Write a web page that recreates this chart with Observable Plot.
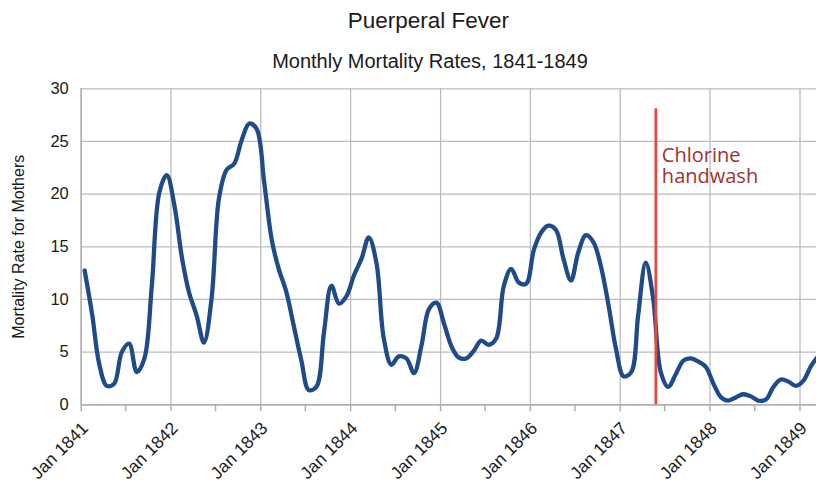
<!DOCTYPE html>
<html>
<head>
<meta charset="utf-8">
<script src="https://cdn.jsdelivr.net/npm/d3@7"></script>
<script src="https://cdn.jsdelivr.net/npm/@observablehq/plot@0.6"></script>
<style>
  body { margin: 0; background: #fff; }
  #wrap { position: relative; width: 816px; height: 480px; overflow: hidden; font-family: "Liberation Sans", Arial, sans-serif; color: #1a1a1a; }
  .ttl { position: absolute; white-space: nowrap; transform: translateX(-50%); line-height: 1; }
  #title { left: 428.3px; top: 10.3px; font-size: 22.5px; }
  #subtitle { left: 430px; top: 51.4px; font-size: 20px; }
  #chart { position: absolute; left: 0; top: 0; }
</style>
</head>
<body>
<div id="wrap">
  <div id="chart"></div>
  <div id="title" class="ttl">Puerperal Fever</div>
  <div id="subtitle" class="ttl">Monthly Mortality Rates, 1841-1849</div>
</div>
<script>
// ---- data ----
const firstMonth = [1841, 0];          // Jan 1841, one value per month
const mortalityRates = [
  12.75, 8.5, 3.9, 1.8, 2.0, 5.0, 5.8, 3.1, 4.4, 11.3, 20.2, 21.8,      // 1841
  18.9, 13.9, 10.7, 8.5, 5.9, 10.1, 19.6, 22.3, 22.9, 25.1, 26.7, 26.2, // 1842
  21.1, 15.6, 12.9, 10.7, 7.5, 4.2, 1.4, 1.7, 6.9, 11.3, 9.6, 10.3,     // 1843
  12.3, 13.9, 15.9, 13.5, 6.3, 3.8, 4.6, 4.4, 3.0, 5.6, 9.1, 9.7,       // 1844
  7.7, 5.5, 4.5, 4.4, 5.1, 6.1, 5.7, 6.3, 11.3, 12.9, 11.6, 11.5,       // 1845
  14.7, 16.4, 17.0, 16.6, 13.9, 11.8, 14.5, 16.1, 15.4, 13.1, 9.4, 5.3, // 1846
  2.7, 3.1, 8.5, 13.5, 10.1, 3.1, 1.7, 2.9, 4.2, 4.4, 4.1, 3.6,         // 1847
  2.0, 0.7, 0.4, 0.7, 1.0, 0.8, 0.4, 0.5, 1.7, 2.4, 2.2, 1.8,           // 1848
  2.3, 3.7, 4.6                                                         // 1849
];
const yearTickYears = [1841, 1842, 1843, 1844, 1845, 1846, 1847, 1848, 1849];
const yTickValues = [0, 5, 10, 15, 20, 25, 30];
const yLabel = "Mortality Rate for Mothers";
const annotationDate = [1847, 4, 26];  // chlorine handwashing introduced
const annotationTop = 28.1;
const annotationText = "Chlorine\nhandwash";

// ---- build tables ----
const data = mortalityRates.map((v, i) => ({
  date: new Date(Date.UTC(firstMonth[0], firstMonth[1] + i, 15)),
  rate: v
}));
const yearTicks = yearTickYears.map(y => new Date(Date.UTC(y, 0, 1)));
const halfYearTicks = yearTickYears.flatMap(y => [new Date(Date.UTC(y, 0, 1)), new Date(Date.UTC(y, 6, 1))])
  .filter(d => d <= new Date(Date.UTC(1849, 2, 9)));
const handwash = new Date(Date.UTC(...annotationDate));

const gray = "#bcbcbc";
const chart = Plot.plot({
  width: 816,
  height: 480,
  marginTop: 88.3,
  marginBottom: 75.7,
  marginLeft: 80.7,
  marginRight: 0,
  style: { fontFamily: "'Liberation Sans', Arial, sans-serif", background: "transparent", overflow: "visible" },
  x: { type: "utc", domain: [new Date(Date.UTC(1841, 0, 1)), new Date(Date.UTC(1849, 2, 9))] },
  y: { domain: [0, 30] },
  marks: [
    Plot.gridY(yTickValues, { stroke: gray, strokeOpacity: 1, strokeWidth: 1.3 }),
    Plot.gridX(yearTicks, { stroke: gray, strokeOpacity: 1, strokeWidth: 1.3 }),
    Plot.ruleX([yearTicks[0]], { stroke: "#b0b0b0", strokeWidth: 1.5 }),
    Plot.ruleY([0], { stroke: "#b0b0b0", strokeWidth: 1.5 }),
    Plot.axisX({ ticks: halfYearTicks, tickSize: 7, tickFormat: () => "", stroke: "#b0b0b0", strokeWidth: 1.5, label: null }),
    Plot.axisX({
      ticks: yearTicks, tickSize: 0, tickPadding: 20.5, tickRotate: -45, dx: 4,
      tickFormat: d3.utcFormat("Jan %Y"), fontSize: 17.5, fill: "#1a1a1a", label: null
    }),
    Plot.axisY({ ticks: yTickValues, tickSize: 0, tickPadding: 12.4, fontSize: 16.5, fill: "#1a1a1a", label: null }),
    Plot.text([yLabel], { frameAnchor: "left", rotate: -90, dx: -62.2, text: d => d, fontSize: 16, fill: "#1a1a1a", textAnchor: "middle", lineAnchor: "middle" }),
    Plot.line(data, { x: "date", y: "rate", stroke: "#1f4b87", strokeWidth: 4.3, curve: "catmull-rom", clip: true }),
    Plot.ruleX([handwash], { y1: 0, y2: annotationTop, stroke: "#e8483e", strokeWidth: 2.8 }),
    Plot.text([annotationText], {
      x: () => handwash, y: () => 21.06, text: d => d, dx: 6, textAnchor: "start", lineAnchor: "bottom",
      lineHeight: 1.05, fontSize: 20, fontFamily: "'Open Sans', sans-serif", fill: "#a0322e"
    })
  ]
});
document.getElementById("chart").appendChild(chart);
</script>
</body>
</html>
